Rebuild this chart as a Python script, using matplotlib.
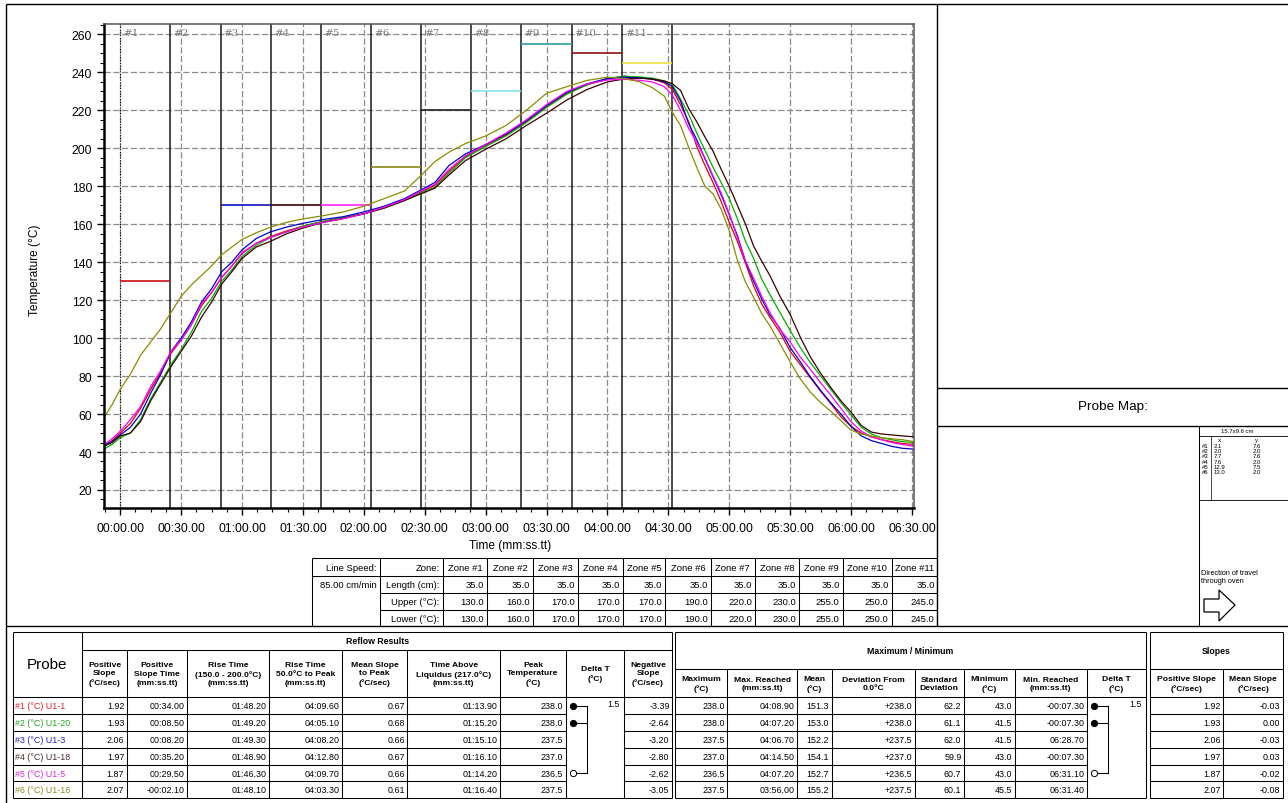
# coding: utf-8
'''
Reflow oven profile: six probe curves, zone set-up table,
probe map and the reflow result tables
'''
import matplotlib
matplotlib.use('Agg')
import matplotlib.pyplot as plt
from matplotlib.ticker import MultipleLocator, FuncFormatter
from matplotlib.patches import Polygon
from matplotlib.transforms import Bbox, TransformedBbox

plt.rcParams['font.family'] = ['Liberation Sans', 'DejaVu Sans']

# ---------------- oven set-up ----------------
line_speed = 85.00  # cm/min
zone_names = ['Zone #1', 'Zone #2', 'Zone #3', 'Zone #4', 'Zone #5', 'Zone #6',
              'Zone #7', 'Zone #8', 'Zone #9', 'Zone #10', 'Zone #11']
zone_length = [35.0, 35.0, 35.0, 35.0, 35.0, 35.0, 35.0, 35.0, 35.0, 35.0, 35.0]
zone_upper = [130.0, 160.0, 170.0, 170.0, 170.0, 190.0, 220.0, 230.0, 255.0, 250.0, 245.0]
zone_lower = [130.0, 160.0, 170.0, 170.0, 170.0, 190.0, 220.0, 230.0, 255.0, 250.0, 245.0]
# set-point line colour per zone (zone 2 line is not visible on the chart)
zone_colors = ['#cc1010', None, '#1010c0', '#400000', '#ff20ff', '#8a8a10',
               '#202020', '#80e8e8', '#30a0a0', '#901010', '#f0e040']

# ---------------- probe curves ----------------
time_s = [-8, -4, 0, 5, 10, 15, 20, 25, 30, 35, 40, 45, 50, 55, 60, 67, 74, 82, 90,
          100, 110, 120, 130, 140, 148, 155, 162, 170, 180, 190, 200, 210, 220, 230,
          240, 248, 256, 262, 268, 272, 276, 280, 284, 288, 292, 296, 300, 304, 308,
          312, 316, 320, 325, 330, 335, 340, 345, 350, 355, 360, 365, 370, 375, 380,
          385, 391]

probe_1 = [43.2, 46, 50, 55, 63, 73, 82, 92, 99, 107, 117, 124, 132, 138, 144.5, 150,
           153.5, 156.5, 159, 161.5, 163.5, 165.5, 169, 173, 177, 180.5, 188, 195.5,
           201.5, 207, 214, 222, 229, 233.5, 236.5, 238, 237.2, 236.5, 234.5, 231, 223,
           214, 201, 191, 182, 172, 161, 151, 139.5, 127.5, 118, 111, 103, 93, 86, 79,
           72, 65.5, 58.5, 53.5, 50, 48, 46.5, 45.5, 44.5, 44]
probe_2 = [41.5, 44, 47.5, 50, 57, 68, 77, 86, 94, 103, 114, 121, 130, 136, 143, 149,
           153, 156, 159, 161.5, 163.5, 165.5, 168.5, 172.5, 176.5, 179.5, 187, 195,
           201, 206.5, 213.5, 221.5, 228.5, 233.5, 236.8, 238, 237.6, 237, 235.5, 233.5,
           226, 218, 208, 199, 190, 182, 173.5, 163, 151, 142, 131, 123, 113.5, 104, 95,
           87, 80, 73, 66, 59.5, 53, 49.5, 47.5, 46.5, 45.5, 45]
probe_3 = [43.5, 45.5, 49, 53, 60, 71, 81, 93, 100, 108.5, 119, 126, 135, 140, 146.5,
           152.5, 156, 158.5, 160.5, 162.5, 164, 166.5, 169.5, 173.5, 178, 182, 191,
           197, 202, 207.5, 214.5, 222.5, 229.5, 234, 236.8, 237.5, 237, 236.5, 235,
           232.5, 225, 213, 204.5, 194.5, 185, 175.5, 165, 154, 140.5, 130, 120.5, 112.5,
           105, 95, 87.5, 79.5, 72.5, 66, 60, 53.5, 48.5, 46, 44.5, 43, 42, 41.5]
probe_4 = [43, 45, 48.5, 50, 56, 67, 76, 85, 93, 101, 111, 119, 128.5, 135, 142, 148,
           151, 155, 158, 161, 163, 165.5, 168.5, 172.5, 176, 179, 186, 193.5, 199.5,
           205, 212, 218.5, 225.5, 231, 235, 236.5, 237, 236.5, 235.5, 234, 230.5, 221,
           214, 206, 198.5, 189, 180, 170, 160, 148.5, 140.5, 133, 122, 112.5, 100.5, 90,
           81.5, 74, 67, 61, 54, 50.5, 49.5, 49, 48.5, 48]
probe_5 = [44, 47, 51, 57, 64, 74.5, 83, 93, 99, 107, 118, 124, 132, 138, 145, 150, 153,
           156, 158.5, 161, 163, 165.5, 169, 173, 177.5, 181, 189, 196, 202, 208, 215,
           223, 230, 234, 236, 236.5, 235.8, 235, 232.5, 228, 220, 210.5, 203, 195, 185.5,
           176.5, 165.5, 153, 140.5, 131.5, 122, 113.5, 104.5, 98, 90, 83.5, 76.5, 70, 63,
           56, 51, 48, 46.5, 45, 44, 43]
probe_6 = [58, 65, 73, 81, 91, 98, 105, 113.5, 122, 128, 133, 138, 144, 148, 152, 155.5,
           158.5, 161, 162.8, 164.5, 166.5, 169.5, 173.5, 177.5, 185.5, 193, 198, 202.5,
           206.5, 212, 220, 229, 232.5, 235.8, 237.5, 236.8, 235, 232, 227.5, 219, 212,
           200.5, 190, 180, 176, 168, 156.5, 141, 129.5, 121.5, 113, 106.5, 97, 87.5,
           78.5, 71.5, 66, 61.5, 56.5, 51.5, 49.5, 48.5, 47.5, 47, 46.5, 45.5]

probes = [probe_1, probe_2, probe_3, probe_4, probe_5, probe_6]
probe_names = ['#1 (°C) U1-1', '#2 (°C) U1-20', '#3 (°C) U1-3',
               '#4 (°C) U1-18', '#5 (°C) U1-5', '#6 (°C) U1-16']
probe_colors = ['#e00000', '#00b000', '#0000d0', '#3c0000', '#ff00ff', '#8c8c00']
label_colors = ['#e02020', '#20a020', '#2020c0', '#4a2a2a', '#e020e0', '#8a8a20']

# ---------------- reflow results ----------------
pos_slope = ['1.92', '1.93', '2.06', '1.97', '1.87', '2.07']
pos_slope_time = ['00:34.00', '00:08.50', '00:08.20', '00:35.20', '00:29.50', '-00:02.10']
rise_150_200 = ['01:48.20', '01:49.20', '01:49.30', '01:48.90', '01:46.30', '01:48.10']
rise_50_peak = ['04:09.60', '04:05.10', '04:08.20', '04:12.80', '04:09.70', '04:03.30']
mean_slope_peak = ['0.67', '0.68', '0.66', '0.67', '0.66', '0.61']
time_above_liq = ['01:13.90', '01:15.20', '01:15.10', '01:16.10', '01:14.20', '01:16.40']
peak_temp = [238.0, 238.0, 237.5, 237.0, 236.5, 237.5]
neg_slope = ['-3.39', '-2.64', '-3.20', '-2.80', '-2.62', '-3.05']

# ---------------- maximum / minimum and slopes ----------------
max_reached = ['04:08.90', '04:07.20', '04:06.70', '04:14.50', '04:07.20', '03:56.00']
mean_temp = ['151.3', '153.0', '152.2', '154.1', '152.7', '155.2']
deviation = ['+238.0', '+238.0', '+237.5', '+237.0', '+236.5', '+237.5']
std_dev = ['62.2', '61.1', '62.0', '59.9', '60.7', '60.1']
minimum = ['43.0', '41.5', '41.5', '43.0', '43.0', '45.5']
min_reached = ['-00:07.30', '-00:07.30', '06:28.70', '-00:07.30', '06:31.10', '06:31.40']
slope_pos = ['1.92', '1.93', '2.06', '1.97', '1.87', '2.07']
slope_mean = ['-0.03', '0.00', '-0.03', '0.03', '-0.02', '-0.08']

# ---------------- probe map ----------------
board_size = '15.7x9.6 cm'
map_x = ['2.1', '2.0', '7.7', '7.6', '12.9', '13.0']
map_y = ['7.6', '2.0', '7.6', '2.0', '7.5', '2.0']

W, H = 1288, 804
fig = plt.figure(figsize=(W / 100, H / 100), dpi=100, facecolor='white')

# overlay in pixel coordinates for frames and tables (drawn first = underneath)
ov = fig.add_axes([0, 0, 1, 1])
ov.axis('off')


def hline(y, x0, x1, lw=0.75):
    ov.plot([x0, x1], [y, y], color='black', lw=lw, solid_capstyle='butt')


def vline(x, y0, y1, lw=0.75):
    ov.plot([x, x], [y0, y1], color='black', lw=lw, solid_capstyle='butt')


def put(x, y, s, ha='center', size=6.4, weight='normal', color='black', **kw):
    ov.text(x, y, s, ha=ha, va='center', fontsize=size, fontweight=weight,
            color=color, **kw)


# ---------------- profile chart ----------------
ax = fig.add_axes([104 / W, 1 - 509 / H, 810 / W, 484 / H])
ax.set_axisbelow(True)
ax.grid(True, which='major', color='#8c8c8c', linestyle=(0, (5, 2)), linewidth=0.9)

# zone boundaries from the zone lengths and line speed
bounds = [0.0]
for length in zone_length:
    bounds.append(bounds[-1] + length / line_speed * 60.0)

ax.axvline(bounds[0], color='black', lw=0.8, ls=(0, (1, 1.5)))
for b in bounds[1:]:
    ax.axvline(b, color='#1a1a1a', lw=1.1)
for i in range(len(zone_upper)):
    if zone_colors[i] is not None:
        ax.hlines(zone_upper[i], bounds[i], bounds[i + 1], color=zone_colors[i], lw=1.2)
    ax.text(bounds[i] + 1.5, 261, '#%d' % (i + 1), family='DejaVu Serif',
            fontsize=7.5, color='#7a7a7a', va='center', ha='left')

for vals, col in zip(probes, probe_colors):
    ax.plot(time_s, vals, color=col, lw=0.9)

ax.set_xlim(-8, 391)
ax.set_ylim(10.5, 265.5)
ax.xaxis.set_major_locator(MultipleLocator(30))
ax.xaxis.set_minor_locator(MultipleLocator(7.5))
ax.yaxis.set_major_locator(MultipleLocator(20))
ax.yaxis.set_minor_locator(MultipleLocator(5))


def mmss(v, pos):
    m = int(v // 60)
    return '%02d:%05.2f' % (m, v - 60 * m)


ax.xaxis.set_major_formatter(FuncFormatter(mmss))
ax.tick_params(which='major', direction='out', length=5, width=1, labelsize=8.7)
ax.tick_params(axis='x', which='major', pad=5)
ax.tick_params(which='minor', direction='out', length=3, width=0.8)
for side in ['left', 'bottom']:
    ax.spines[side].set_linewidth(1.8)
    ax.spines[side].set_color('black')
for side in ['top', 'right']:
    ax.spines[side].set_linewidth(1.1)
    ax.spines[side].set_color('#555555')

# the last time label is cut by the panel divider
clip = TransformedBbox(Bbox.from_extents(0, 0, 937.5 / W, 1), fig.transFigure)
for lbl in ax.get_xticklabels():
    lbl.set_clip_box(clip)
    lbl.set_clip_on(True)

fig.text(510 / W, 1 - 546 / H, 'Time (mm:ss.tt)', ha='center', va='center', fontsize=8.6)
fig.text(35 / W, 1 - 270 / H, 'Temperature (°C)', ha='center', va='center',
         fontsize=8.6, rotation=90)

# ---------------- page frame ----------------
hline(4.5, 6, W, lw=1.0)
vline(6.5, 4.5, H, lw=1.0)
vline(937.5, 4.5, 627.3, lw=1.0)
hline(627.3, 6.5, W, lw=1.0)
hline(389, 937.5, W, lw=1.0)
hline(426.7, 937.5, W, lw=1.0)
vline(1199.5, 426.7, 627.3)

# ---------------- probe map ----------------
put(1113, 407, 'Probe Map:', size=9.7)
put(1237, 431.5, board_size, size=4.3)
hline(436.7, 1199.5, W, lw=0.6)
hline(500.7, 1199.5, W, lw=0.6)
vline(1211, 436.7, 500.7, lw=0.5)
put(1218, 441, 'x', ha='left', size=4.3)
put(1255, 441, 'y', ha='left', size=4.3)
for i in range(len(map_x)):
    yc = 446.5 + i * 5.2
    put(1202, yc, '#%d' % (i + 1), ha='left', size=4.3)
    put(1214, yc, map_x[i], ha='left', size=4.3)
    put(1253, yc, map_y[i], ha='left', size=4.3)
put(1201, 573.5, 'Direction of travel', ha='left', size=5.3)
put(1201, 582, 'through oven', ha='left', size=5.3)
arrow = Polygon([(1204, 600), (1219, 600), (1219, 591), (1235, 606), (1219, 622),
                 (1219, 613), (1204, 613)], closed=True, fill=False,
                edgecolor='black', lw=0.9)
ov.add_patch(arrow)

# ---------------- zone table ----------------
zx = [311.7, 380, 442.7, 487.3, 533.3, 578.3, 623.3, 665, 710.7, 755, 799.3,
      842.7, 891.7, 937.5]
zy = [559.3, 577.3, 594.3, 611, 627.3]
hline(zy[0], zx[0], zx[-1])
hline(zy[1], zx[0], zx[-1])
hline(zy[2], zx[1], zx[-1])
hline(zy[3], zx[1], zx[-1])
for x in zx:
    vline(x, zy[0], zy[-1])
zc = [(zy[k] + zy[k + 1]) / 2 for k in range(4)]
put(zx[1] - 3, zc[0], 'Line Speed:', ha='right', size=6.8)
put(zx[1] - 3, zc[1], '%.2f cm/min' % line_speed, ha='right', size=6.8)
put(zx[2] - 3, zc[0], 'Zone:', ha='right', size=6.8)
put(zx[2] - 3, zc[1], 'Length (cm):', ha='right', size=6.8)
put(zx[2] - 3, zc[2], 'Upper (°C):', ha='right', size=6.8)
put(zx[2] - 3, zc[3], 'Lower (°C):', ha='right', size=6.8)
for i in range(len(zone_names)):
    x0, x1 = zx[i + 2], zx[i + 3]
    put((x0 + x1) / 2, zc[0], zone_names[i], size=6.8)
    put(x1 - 3, zc[1], '%.1f' % zone_length[i], ha='right', size=6.8)
    put(x1 - 3, zc[2], '%.1f' % zone_upper[i], ha='right', size=6.8)
    put(x1 - 3, zc[3], '%.1f' % zone_lower[i], ha='right', size=6.8)

# ---------------- result tables ----------------
top, data_top, bottom = 633.3, 698.3, 799.3
n_rows = len(probe_names)
row_h = (bottom - data_top) / n_rows
row_c = [data_top + (r + 0.5) * row_h for r in range(n_rows)]


def delta_bracket(x0, x1, values):
    """Dots on the hottest / coldest probes joined by a bracket, with the spread."""
    hi, lo = max(values), min(values)
    xd, xv = x0 + 7, x0 + 21
    marked = []
    for r, v in enumerate(values):
        if v == hi or v == lo:
            face = 'black' if v == hi else 'white'
            ov.plot([xd, xv], [row_c[r], row_c[r]], color='black', lw=0.75)
            ov.plot(xd, row_c[r], 'o', ms=4.5, mfc=face, mec='black', mew=0.7)
            marked.append(row_c[r])
    vline(xv, min(marked), max(marked))
    put(x1 - 4, row_c[0] - 2.5, '%.1f' % (hi - lo), ha='right')


def grid_table(cols, head_bottom, merged_col):
    """Outline, header split and row lines; merged_col keeps no row lines."""
    hline(top, cols[0], cols[-1])
    hline(bottom, cols[0], cols[-1])
    hline(data_top, cols[0], cols[-1])
    for k in range(1, n_rows):
        y = data_top + k * row_h
        for c in range(len(cols) - 1):
            if c != merged_col:
                hline(y, cols[c], cols[c + 1])
    vline(cols[0], top, bottom)
    vline(cols[-1], top, bottom)
    for x in cols[1:-1]:
        vline(x, head_bottom, bottom)


# reflow results (left table)
lc = [12.7, 82.3, 126.7, 187.3, 269.3, 341.7, 407.3, 500, 566, 624, 672]
reflow_heads = ['Positive\nSlope\n(°C/sec)', 'Positive\nSlope Time\n(mm:ss.tt)',
                'Rise Time\n(150.0 - 200.0°C)\n(mm:ss.tt)',
                'Rise Time\n50.0°C to Peak\n(mm:ss.tt)', 'Mean Slope\nto Peak\n(°C/sec)',
                'Time Above\nLiquidus (217.0°C)\n(mm:ss.tt)', 'Peak\nTemperature\n(°C)',
                'Delta T\n(°C)', 'Negative\nSlope\n(°C/sec)']
peak_text = ['%.1f' % v for v in peak_temp]
reflow_cols = [pos_slope, pos_slope_time, rise_150_200, rise_50_peak, mean_slope_peak,
               time_above_liq, peak_text, None, neg_slope]
grid_table(lc, 651, 8)
vline(lc[1], top, bottom)
hline(651, lc[1], lc[-1])
put((lc[0] + lc[1]) / 2, 665.5, 'Probe', size=11)
put((lc[1] + lc[-1]) / 2, 642, 'Reflow Results', size=6.3, weight='bold')
for c, head in enumerate(reflow_heads):
    x0, x1 = lc[c + 1], lc[c + 2]
    put((x0 + x1) / 2, 674.5, head, size=6.1, weight='bold', linespacing=1.35)
    if reflow_cols[c] is not None:
        for r in range(n_rows):
            put(x1 - 2.5, row_c[r], reflow_cols[c][r], ha='right')
for r in range(n_rows):
    put(lc[0] + 2, row_c[r], probe_names[r], ha='left', color=label_colors[r])
delta_bracket(lc[8], lc[9], peak_temp)

# maximum / minimum (middle table)
mc = [675, 727.3, 797, 831.7, 914.6, 964, 1014.8, 1086.8, 1146.2]
max_heads = ['Maximum\n(°C)', 'Max. Reached\n(mm:ss.tt)', 'Mean\n(°C)',
             'Deviation From\n0.0°C', 'Standard\nDeviation', 'Minimum\n(°C)',
             'Min. Reached\n(mm:ss.tt)', 'Delta T\n(°C)']
max_cols = [peak_text, max_reached, mean_temp, deviation, std_dev, minimum,
            min_reached, None]
grid_table(mc, 670, 7)
hline(670, mc[0], mc[-1])
put((mc[0] + mc[-1]) / 2, 651.5, 'Maximum / Minimum', size=6.3, weight='bold')
for c, head in enumerate(max_heads):
    x0, x1 = mc[c], mc[c + 1]
    put((x0 + x1) / 2, 684.5, head, size=6.1, weight='bold', linespacing=1.35)
    if max_cols[c] is not None:
        for r in range(n_rows):
            put(x1 - 2.5, row_c[r], max_cols[c][r], ha='right')
delta_bracket(mc[7], mc[8], peak_temp)

# slopes (right table)
sc = [1150.2, 1223.5, 1283]
slope_heads = ['Positive Slope\n(°C/sec)', 'Mean Slope\n(°C/sec)']
grid_table(sc, 670, -1)
hline(670, sc[0], sc[-1])
put((sc[0] + sc[-1]) / 2, 651.5, 'Slopes', size=6.3, weight='bold')
for c, col in enumerate([slope_pos, slope_mean]):
    x0, x1 = sc[c], sc[c + 1]
    put((x0 + x1) / 2, 684.5, slope_heads[c], size=6.1, weight='bold', linespacing=1.35)
    for r in range(n_rows):
        put(x1 - 2.5, row_c[r], col[r], ha='right')

ov.set_xlim(0, W)
ov.set_ylim(H, 0)

fig.savefig('out.png', dpi=100, facecolor='white')
